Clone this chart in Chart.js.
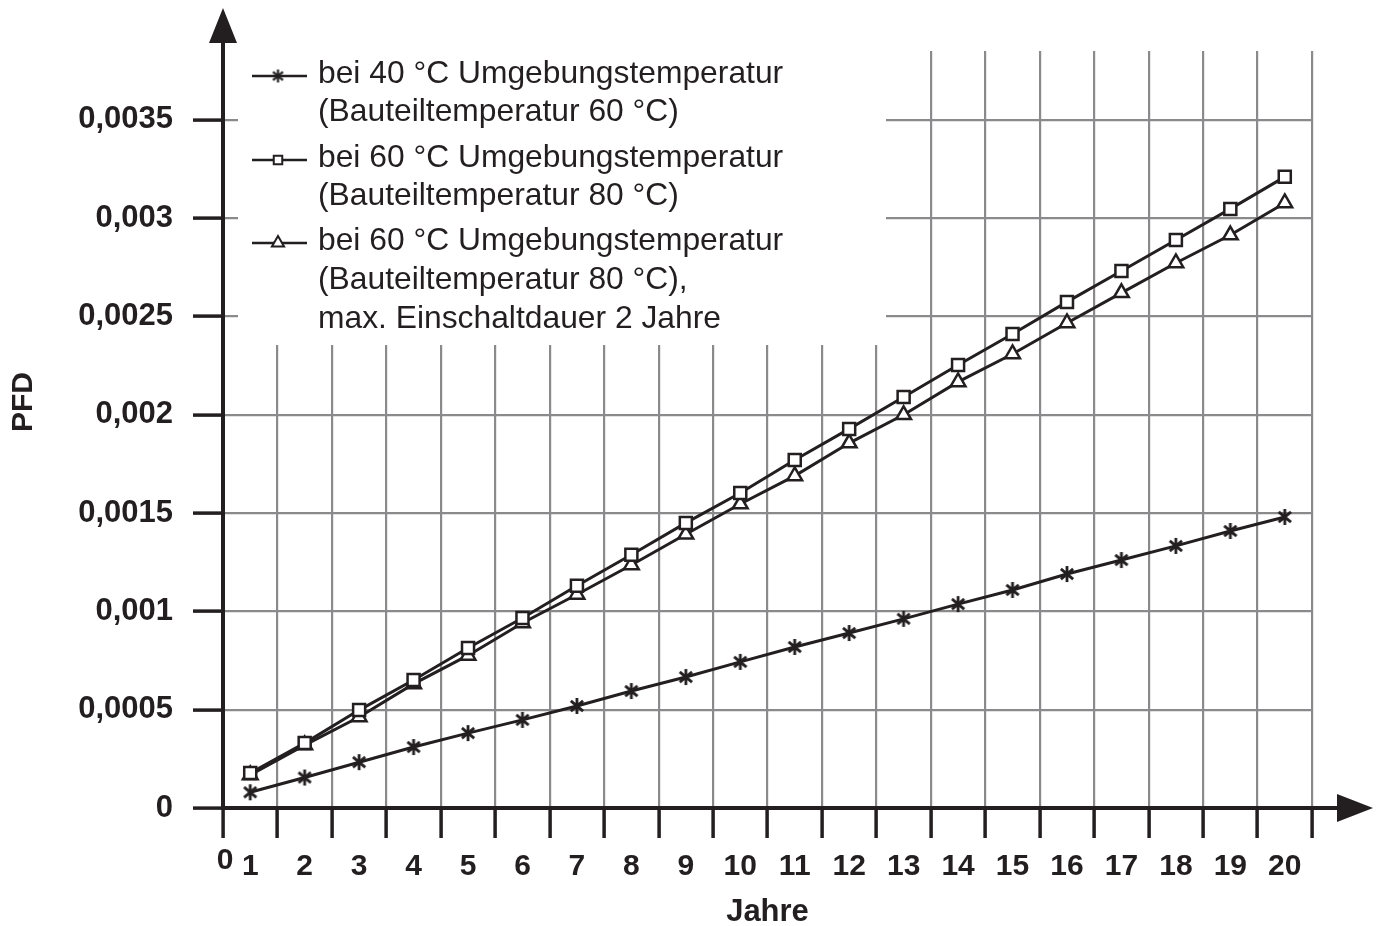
<!DOCTYPE html>
<html>
<head>
<meta charset="utf-8">
<script src="https://cdn.jsdelivr.net/npm/chart.js@4.4.0/dist/chart.umd.min.js"></script>
<style>
  body { margin: 0; background: #fff; }
  canvas { display: block; }
</style>
</head>
<body>
<canvas id="myChart" width="1379" height="926"></canvas>
<script>
let years = ['1', '2', '3', '4', '5', '6', '7', '8', '9', '10', '11', '12', '13', '14', '15', '16', '17', '18', '19', '20'];

// PFD values
let pfd40 = [0.00008, 0.000155, 0.000233, 0.00031, 0.000381, 0.000448, 0.000519, 0.000595, 0.000666, 0.000743,
             0.000819, 0.00089, 0.000962, 0.001037, 0.001109, 0.00119, 0.001261, 0.001333, 0.001409, 0.00148];
let pfd60 = [0.000178, 0.00033, 0.000498, 0.000651, 0.000814, 0.000966, 0.00113, 0.001288, 0.00145, 0.001602,
             0.00177, 0.001928, 0.00209, 0.002253, 0.002411, 0.002574, 0.002731, 0.002889, 0.003047, 0.00321];
let pfd60max2 = [0.000168, 0.00032, 0.000463, 0.000631, 0.000776, 0.000941, 0.001086, 0.001236, 0.001392, 0.001546,
                 0.001689, 0.001856, 0.002, 0.002167, 0.002309, 0.002467, 0.00262, 0.002772, 0.002914, 0.003077];

let legendLabels = [
  ['bei 40 °C Umgebungstemperatur', '(Bauteiltemperatur 60 °C)'],
  ['bei 60 °C Umgebungstemperatur', '(Bauteiltemperatur 80 °C)'],
  ['bei 60 °C Umgebungstemperatur', '(Bauteiltemperatur 80 °C),', 'max. Einschaltdauer 2 Jahre']
];

let ink = '#231f20';
let gridGray = '#8a8a8c';
let fontFamily = "'Liberation Sans', Arial, Helvetica, sans-serif";

// asterisk marker
function makeAsterisk(size, lw) {
  let c = document.createElement('canvas');
  c.width = size; c.height = size;
  let g = c.getContext('2d');
  let m = size / 2, r = size / 2 - 1;
  g.strokeStyle = ink;
  g.lineWidth = lw;
  g.beginPath();
  [90, 40, -40].forEach(function (deg) {
    let a = deg * Math.PI / 180;
    g.moveTo(m - Math.cos(a) * r, m - Math.sin(a) * r);
    g.lineTo(m + Math.cos(a) * r, m + Math.sin(a) * r);
  });
  g.stroke();
  return c;
}
let asterisk = makeAsterisk(18, 2.8);
let asteriskSmall = makeAsterisk(15, 2.2);

let decor = {
  id: 'decor',
  beforeDatasetsDraw(chart) {
    let ctx = chart.ctx, area = chart.chartArea;
    // white box behind the legend
    ctx.save();
    ctx.fillStyle = '#fff';
    ctx.fillRect(area.left + 15, 0, 886 - area.left - 15, 345);
    ctx.restore();
  },
  afterDatasetsDraw(chart) {
    let ctx = chart.ctx, area = chart.chartArea;
    ctx.save();
    // axis arrows
    ctx.fillStyle = ink;
    ctx.strokeStyle = ink;
    ctx.lineWidth = 4;
    ctx.beginPath();
    ctx.moveTo(area.left, area.top);
    ctx.lineTo(area.left, area.top - 12);
    ctx.moveTo(area.right, area.bottom);
    ctx.lineTo(area.right + 30, area.bottom);
    ctx.stroke();
    ctx.beginPath();
    ctx.moveTo(area.left, area.top - 43);
    ctx.lineTo(area.left + 14, area.top - 8);
    ctx.lineTo(area.left - 14, area.top - 8);
    ctx.closePath();
    ctx.fill();
    ctx.beginPath();
    ctx.moveTo(area.right + 61, area.bottom);
    ctx.lineTo(area.right + 25, area.bottom - 14);
    ctx.lineTo(area.right + 25, area.bottom + 14);
    ctx.closePath();
    ctx.fill();

    // origin label and y title
    ctx.font = 'bold 30px ' + fontFamily;
    ctx.textAlign = 'center';
    ctx.textBaseline = 'middle';
    ctx.fillText('0', area.left + 2, area.bottom + 53);
    ctx.translate(24, 402);
    ctx.rotate(-Math.PI / 2);
    ctx.fillText('PFD', 0, 0);
    ctx.restore();

    // legend
    ctx.save();
    ctx.font = '31.8px ' + fontFamily;
    ctx.textAlign = 'left';
    ctx.textBaseline = 'alphabetic';
    let rows = [[83, 121], [167, 205], [250, 289, 328]];
    let symY = [76, 160, 243];
    chart.data.datasets.forEach(function (ds, i) {
      ctx.strokeStyle = ink;
      ctx.lineWidth = 2.5;
      ctx.beginPath();
      ctx.moveTo(252, symY[i]);
      ctx.lineTo(307, symY[i]);
      ctx.stroke();
      ctx.fillStyle = '#fff';
      ctx.lineWidth = 2;
      Chart.helpers.drawPoint(ctx, {
        pointStyle: i === 0 ? asteriskSmall : ds.pointStyle,
        radius: ds.pointStyle === 'rect' ? 6 : 7,
        rotation: 0,
        borderWidth: 2
      }, 278, symY[i]);
      ctx.fillStyle = ink;
      legendLabels[i].forEach(function (line, j) {
        ctx.fillText(line, 318, rows[i][j]);
      });
    });
    ctx.restore();
  }
};

let chart = new Chart(document.getElementById('myChart').getContext('2d'), {
  type: 'line',
  data: {
    labels: years,
    datasets: [
      {
        label: legendLabels[0].join(' '),
        data: pfd40,
        pointStyle: asterisk
      },
      {
        label: legendLabels[1].join(' '),
        data: pfd60,
        pointStyle: 'rect',
        pointRadius: 8.5,
        pointHoverRadius: 8.5
      },
      {
        label: legendLabels[2].join(' '),
        data: pfd60max2,
        pointStyle: 'triangle',
        pointRadius: 8.5,
        pointHoverRadius: 8.5
      }
    ]
  },
  options: {
    responsive: false,
    animation: false,
    devicePixelRatio: 1,
    layout: { padding: { top: 51, right: 67, bottom: 0, left: 0 } },
    elements: {
      line: { borderColor: ink, borderWidth: 3, tension: 0, fill: false },
      point: { borderColor: ink, backgroundColor: '#fff', borderWidth: 2.5 }
    },
    plugins: {
      legend: { display: false },
      tooltip: { enabled: false }
    },
    scales: {
      x: {
        type: 'category',
        offset: true,
        grid: {
          offset: true,
          color: function (c) { return c.index === 0 ? 'rgba(0,0,0,0)' : gridGray; },
          lineWidth: 2.2,
          tickColor: ink,
          tickWidth: 3.5,
          tickLength: 30
        },
        border: { color: ink, width: 4 },
        ticks: {
          color: ink,
          font: { family: fontFamily, size: 30, weight: 'bold' },
          padding: 11,
          maxRotation: 0,
          autoSkip: false
        },
        title: {
          display: true,
          text: 'Jahre',
          color: ink,
          font: { family: fontFamily, size: 31, weight: 'bold', lineHeight: 0.9 },
          padding: { top: 0, bottom: 0 }
        },
        afterFit: function (scale) { scale.height = 118; }
      },
      y: {
        min: 0,
        max: 0.00385,
        grid: {
          color: function (c) { return c.tick && c.tick.value === 0 ? 'rgba(0,0,0,0)' : gridGray; },
          lineWidth: 2.2,
          tickColor: ink,
          tickWidth: 3.5,
          tickLength: 30
        },
        border: { color: ink, width: 4 },
        ticks: {
          stepSize: 0.0005,
          color: ink,
          padding: 20,
          font: { family: fontFamily, size: 31, weight: 'bold' },
          callback: function (v) { return parseFloat(v.toFixed(4)).toString().replace('.', ','); }
        },
        afterBuildTicks: function (scale) {
          scale.ticks = scale.ticks.filter(function (t) { return t.value <= 0.0035 + 1e-9; });
        },
        afterFit: function (scale) { scale.width = 223; }
      }
    }
  },
  plugins: [decor]
});
</script>
</body>
</html>
